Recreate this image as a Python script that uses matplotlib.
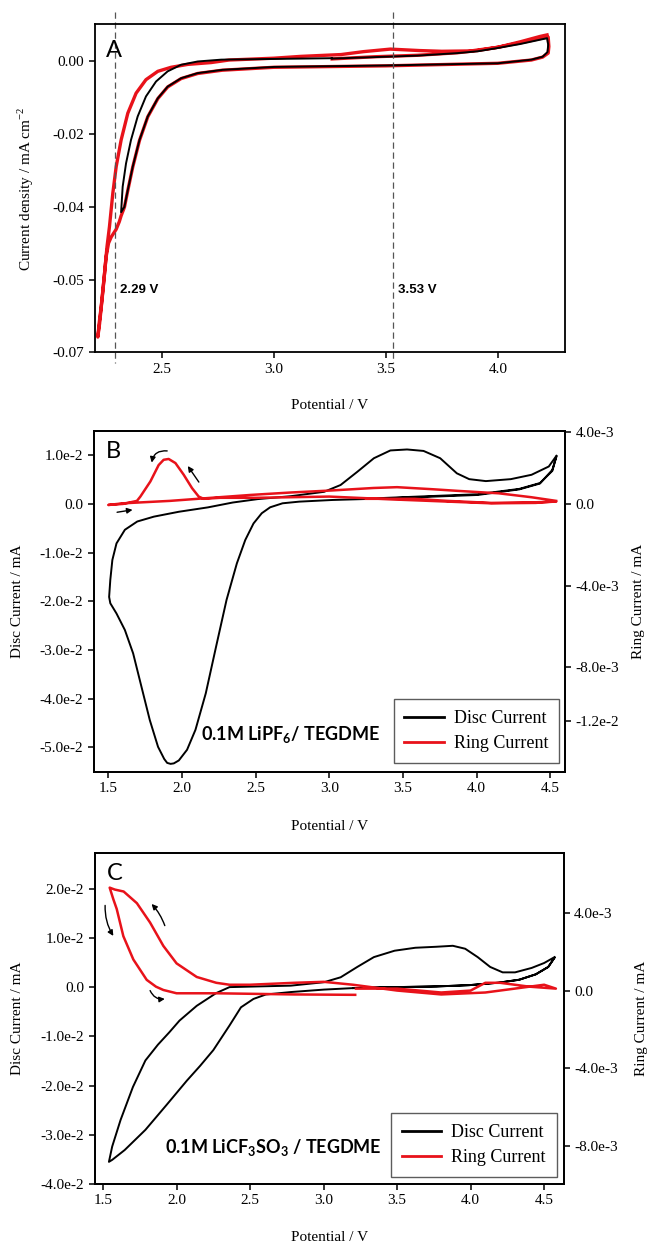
import numpy as np
import matplotlib
matplotlib.use('Agg')
from matplotlib import pyplot as plt

plt.rcParams['font.family'] = ['Liberation Serif', 'DejaVu Serif']
plt.rcParams['mathtext.fontset'] = 'custom'
plt.rcParams['mathtext.rm'] = 'Liberation Serif'
plt.rcParams['mathtext.bf'] = 'Lato:bold'

RED = '#e8121a'

# ---- panel A : CV, current density (mA cm-2) vs potential (V)
a_black_v = [3.26, 3.45, 3.64, 3.82, 3.91, 4.0, 4.1, 4.19, 4.22, 4.225, 4.222, 4.2, 4.15,
             4.0, 3.5, 3.0, 2.77, 2.66, 2.586, 2.526, 2.482, 2.437, 2.40, 2.37, 2.348,
             2.333, 2.318, 2.325, 2.34, 2.362, 2.392, 2.429, 2.474, 2.526, 2.586, 2.66,
             2.765, 3.0, 3.26]
a_black_i = [0.0007, 0.0011, 0.0015, 0.0022, 0.0027, 0.0036, 0.0047, 0.0059, 0.0063, 0.0045,
             0.0025, 0.0012, 0.0004, -0.0006, -0.0012, -0.0016, -0.0024, -0.0033, -0.0047,
             -0.007, -0.0102, -0.0152, -0.0217, -0.029, -0.0354, -0.040, -0.0415, -0.0345,
             -0.0281, -0.0217, -0.0152, -0.0097, -0.0056, -0.0028, -0.001, -0.0001, 0.0004,
             0.0006, 0.0008]

a_red_v = [3.26, 3.45, 3.64, 3.82, 3.91, 4.0, 4.1, 4.19, 4.225, 4.228, 4.225, 4.2, 4.15,
           4.0, 3.5, 3.0, 2.77, 2.66, 2.586, 2.526, 2.482, 2.437, 2.40, 2.37, 2.348, 2.333,
           2.318, 2.31, 2.296, 2.274, 2.262, 2.251, 2.237, 2.222, 2.214, 2.22, 2.229, 2.244,
           2.255, 2.266, 2.281, 2.296, 2.318, 2.348, 2.385, 2.429, 2.482, 2.541, 2.616, 2.72,
           2.8, 3.0, 3.12, 3.3, 3.4, 3.52, 3.65, 3.75, 3.88, 4.0, 4.1, 4.19, 4.22]
a_red_i = [0.0006, 0.0012, 0.0016, 0.0023, 0.0029, 0.0038, 0.005, 0.0062, 0.0066, 0.004,
           0.0022, 0.0011, 0.0003, -0.0006, -0.0013, -0.0017, -0.0025, -0.0034, -0.0048,
           -0.0071, -0.0103, -0.0153, -0.0218, -0.0291, -0.0355, -0.0401, -0.0425, -0.0441,
           -0.0462, -0.0483, -0.050, -0.0538, -0.063, -0.0721, -0.0758, -0.072, -0.0675,
           -0.0583, -0.051, -0.0455, -0.0363, -0.029, -0.0217, -0.0143, -0.0088, -0.0051,
           -0.0028, -0.0017, -0.0009, -0.0004, 0.0003, 0.0008, 0.0013, 0.0018, 0.0026,
           0.0033, 0.0029, 0.0027, 0.0028, 0.0038, 0.0053, 0.0068, 0.0072]

a_marks = [2.29, 3.53]
a_mark_labels = ['2.29 V', '3.53 V']
a_yticks = [0.0, -0.02, -0.04, -0.06, -0.08]
a_yticklabels = ['0.00', '-0.02', '-0.04', '-0.05', '-0.07']

# ---- panel B : RRDE, LiPF6
b_disc_v = [3.26, 3.585, 4.007, 4.29, 4.43, 4.514, 4.542, 4.514, 4.43, 4.29, 4.007, 3.585,
            3.26, 3.02, 2.796, 2.683, 2.599, 2.542, 2.486, 2.43, 2.373, 2.303, 2.232, 2.162,
            2.092, 2.035, 1.979, 1.945, 1.923, 1.90, 1.88, 1.838, 1.782, 1.725, 1.669, 1.613,
            1.556, 1.514, 1.506, 1.514, 1.528, 1.556, 1.613, 1.697, 1.81, 1.979, 2.176, 2.345,
            2.514, 2.739, 2.965, 3.077, 3.19, 3.303, 3.415, 3.528, 3.64, 3.753, 3.866, 3.95,
            4.063, 4.232, 4.373, 4.49, 4.542]
b_disc_i = [0.0011, 0.0015, 0.0020, 0.0031, 0.0043, 0.0068, 0.0098, 0.0070, 0.0042, 0.0030,
            0.00185, 0.00137, 0.00103, 0.00082, 0.00048, 0.00014, -0.00068, -0.0019, -0.004,
            -0.0074, -0.0122, -0.0197, -0.0293, -0.0389, -0.0464, -0.0505, -0.0527, -0.0533,
            -0.0534, -0.0532, -0.0524, -0.0499, -0.0444, -0.0375, -0.0307, -0.0259, -0.0225,
            -0.0204, -0.0191, -0.0156, -0.0115, -0.0081, -0.0053, -0.0036, -0.0026, -0.0016,
            -0.0007, 0.0003, 0.001, 0.0016, 0.0025, 0.0039, 0.0066, 0.0094, 0.011, 0.0112,
            0.0109, 0.0094, 0.0063, 0.0051, 0.0047, 0.0051, 0.006, 0.0077, 0.0099]

b_ring_v = [3.25, 3.58, 3.8, 4.1, 4.4, 4.54, 4.4, 4.1, 3.5, 3.0, 2.5, 2.26, 2.148, 2.114,
            2.069, 2.012, 1.956, 1.91, 1.876, 1.842, 1.786, 1.718, 1.695, 1.6, 1.5, 1.6, 1.92,
            2.2, 2.466, 2.74, 3.02, 3.3, 3.46, 3.7, 3.87, 4.15, 4.37, 4.54]
b_ring_i = [0.00025, 0.00025, 0.00015, 0.00005, 0.00008, 0.00012, 0.00005, 0.00003, 0.0002,
            0.00036, 0.0003, 0.0003, 0.00025, 0.00036, 0.00077, 0.00143, 0.002, 0.0022,
            0.00216, 0.0019, 0.0011, 0.00036, 0.00015, 0.0, -0.00005, 0.00003, 0.00015,
            0.0003, 0.00044, 0.00056, 0.00066, 0.00078, 0.00082, 0.00072, 0.00064, 0.00052,
            0.00033, 0.00015]

b_disc_ticks = [0.01, 0.0, -0.01, -0.02, -0.03, -0.04, -0.05]
b_disc_labels = ['1.0e-2', '0.0', '-1.0e-2', '-2.0e-2', '-3.0e-2', '-4.0e-2', '-5.0e-2']
b_ring_ticks = [0.00352, 0.0, -0.004, -0.008, -0.0106]
b_ring_labels = ['4.0e-3', '0.0', '-4.0e-3', '-8.0e-3', '-1.2e-2']

# ---- panel C : RRDE, LiCF3SO3
c_disc_v = [3.2, 3.48, 3.77, 3.99, 4.19, 4.33, 4.443, 4.528, 4.571, 4.528, 4.443, 4.33,
            4.19, 3.99, 3.766, 3.483, 3.2, 3.003, 2.777, 2.607, 2.523, 2.438, 2.36, 2.25,
            2.16, 2.07, 1.93, 1.788, 1.647, 1.562, 1.54, 1.562, 1.619, 1.703, 1.788, 1.873,
            1.95, 2.02, 2.137, 2.27, 2.36, 2.494, 2.777, 3.003, 3.116, 3.229, 3.342, 3.483,
            3.624, 3.766, 3.879, 3.963, 4.048, 4.133, 4.218, 4.302, 4.415, 4.5, 4.571]
c_disc_i = [-0.0002, 0.0, 0.00014, 0.0004, 0.0009, 0.0015, 0.0026, 0.0041, 0.006, 0.0041,
            0.0026, 0.0015, 0.0009, 0.0004, 0.00014, 0.0, -0.0002, -0.0005, -0.001, -0.0015,
            -0.0024, -0.0041, -0.0078, -0.0128, -0.016, -0.019, -0.024, -0.029, -0.0331,
            -0.0351, -0.0355, -0.0324, -0.027, -0.0203, -0.0149, -0.0117, -0.0092, -0.0068,
            -0.0038, -0.0012, 0.0, 0.0001, 0.0003, 0.001, 0.002, 0.0041, 0.0061, 0.0074,
            0.008, 0.0082, 0.0084, 0.0078, 0.0061, 0.0041, 0.003, 0.003, 0.0039, 0.0049,
            0.0061]

c_ring_v = [3.22, 3.5, 3.8, 4.0, 4.1, 4.2, 4.4, 4.58, 4.5, 4.3, 4.1, 3.8, 3.5, 3.2, 3.0,
            2.8, 2.5, 2.36, 2.27, 2.137, 2.0, 1.91, 1.82, 1.73, 1.64, 1.58, 1.545, 1.57,
            1.593, 1.638, 1.706, 1.797, 1.86, 1.91, 2.0, 2.27, 2.8, 3.215]
c_ring_i = [0.0001, 0.0001, -0.0001, 0.0, 0.0004, 0.0004, 0.0002, 0.0001, 0.0003, 0.0001,
            -0.0001, -0.0002, 0.0, 0.0003, 0.00045, 0.0004, 0.0003, 0.0003, 0.0004, 0.0007,
            0.0014, 0.0023, 0.0035, 0.0045, 0.0051, 0.0052, 0.0053, 0.0047, 0.0042, 0.0028,
            0.0016, 0.00055, 0.0002, 0.00003, -0.00014, -0.00014, -0.0002, -0.00022]

c_disc_ticks = [0.02, 0.01, 0.0, -0.01, -0.02, -0.03, -0.04]
c_disc_labels = ['2.0e-2', '1.0e-2', '0.0', '-1.0e-2', '-2.0e-2', '-3.0e-2', '-4.0e-2']
c_ring_ticks = [0.004, 0.0, -0.004, -0.008]
c_ring_labels = ['4.0e-3', '0.0', '-4.0e-3', '-8.0e-3']

rrde_ticks = [1.5, 2.0, 2.5, 3.0, 3.5, 4.0, 4.5]
rrde_ticklabels = ['1.5', '2.0', '2.5', '3.0', '3.5', '4.0', '4.5']

TICK_FS = 11
LABEL_FS = 11


def style(ax):
    for s in ax.spines.values():
        s.set_linewidth(1.3)
    ax.tick_params(direction='out', length=4, width=1.1, labelsize=TICK_FS)


fig = plt.figure(figsize=(6.48, 12.42), dpi=100)

# ---------------- A
ax = fig.add_axes([0.1461, 0.7163, 0.7258, 0.2641])
ax.plot(a_red_v, a_red_i, color=RED, lw=2.4)
ax.plot(a_black_v, a_black_i, color='k', lw=1.4)
for v, lab in zip(a_marks, a_mark_labels):
    ax.plot([v, v], [0.0135, -0.083], color='#555555', lw=0.9, ls=(0, (5, 3)), clip_on=False)
    ax.text(v + 0.025, -0.0628, lab, fontsize=9.5, fontweight='bold',
            family='Liberation Sans', va='center', ha='left')
ax.set_xlim(2.2, 4.3)
ax.set_ylim(-0.08, 0.0101)
ax.set_xticks([2.5, 3.0, 3.5, 4.0])
ax.set_yticks(a_yticks)
ax.set_yticklabels(a_yticklabels)
ax.set_xlabel('Potential / V', fontsize=LABEL_FS)
ax.set_ylabel('Current density / mA cm$^{-2}$', fontsize=LABEL_FS)
ax.xaxis.set_label_coords(0.5, -0.142)
ax.yaxis.set_label_coords(-0.124, 0.5)
ax.text(0.024, 0.92, 'A', transform=ax.transAxes, fontsize=17, family='Lato',
        va='center', ha='left')
style(ax)


def rrde_panel(rect, dv, di, rv, ri, xlim, dlim, rlim, dticks, dlabels, rticks, rlabels,
               letter, note, leg_anchor, lab_x, rlab_x):
    ax = fig.add_axes(rect)
    ax.plot(dv, di, color='k', lw=1.4, label='Disc Current')
    ax.set_xlim(*xlim)
    ax.set_ylim(*dlim)
    ax.set_xticks(rrde_ticks)
    ax.set_xticklabels(rrde_ticklabels)
    ax.set_yticks(dticks)
    ax.set_yticklabels(dlabels)
    ax.set_xlabel('Potential / V', fontsize=LABEL_FS)
    ax.set_ylabel('Disc Current / mA', fontsize=LABEL_FS)
    ax.xaxis.set_label_coords(0.5, -0.143)
    ax.yaxis.set_label_coords(lab_x, 0.5)
    style(ax)
    ax2 = ax.twinx()
    ax2.plot(rv, ri, color=RED, lw=1.8, label='Ring Current')
    ax2.set_ylim(*rlim)
    ax2.set_yticks(rticks)
    ax2.set_yticklabels(rlabels)
    ax2.set_ylabel('Ring Current / mA', fontsize=LABEL_FS)
    ax2.yaxis.set_label_coords(rlab_x, 0.5)
    style(ax2)
    ax.text(0.027, 0.94, letter, transform=ax.transAxes, fontsize=17, family='Lato',
            va='center', ha='left')
    ax.text(note[0], note[1], note[2], transform=ax.transAxes, fontsize=13.0,
            family='Lato', fontweight='bold', va='center', ha='left')
    h1, l1 = ax.get_legend_handles_labels()
    h2, l2 = ax2.get_legend_handles_labels()
    leg = ax2.legend(h1 + h2, l1 + l2, loc='lower right', bbox_to_anchor=leg_anchor,
                     borderaxespad=0, fontsize=13, frameon=True, fancybox=False,
                     handlelength=2.2, handletextpad=0.55, labelspacing=0.45,
                     borderpad=0.6)
    leg.get_frame().set_edgecolor('#333333')
    leg.get_frame().set_linewidth(1.0)
    for line in leg.get_lines():
        line.set_linewidth(2.0)
    return ax


def arrow(ax, start, end, rad):
    ax.annotate('', xy=end, xytext=start,
                arrowprops=dict(arrowstyle='-|>', color='k', lw=1.0, mutation_scale=8,
                                shrinkA=0, shrinkB=0,
                                connectionstyle='arc3,rad=%s' % rad))


# ---------------- B
axb = rrde_panel([0.1443, 0.3787, 0.7276, 0.2743], b_disc_v, b_disc_i, b_ring_v, b_ring_i,
                 (1.4, 4.6), (-0.055, 0.015), (-0.0131, 0.00357),
                 b_disc_ticks, b_disc_labels, b_ring_ticks, b_ring_labels,
                 'B', (0.227, 0.108, '0.1M LiPF$_{\\mathbf{6}}$/ TEGDME'),
                 (0.988, 0.0255), -0.147, 1.143)
arrow(axb, (1.56, -0.0017), (1.665, -0.0012), 0)
arrow(axb, (2.115, 0.0045), (2.04, 0.0078), 0)
arrow(axb, (1.90, 0.0109), (1.795, 0.0085), 0.45)

# ---------------- C
axc = rrde_panel([0.1461, 0.0467, 0.7238, 0.2663], c_disc_v, c_disc_i, c_ring_v, c_ring_i,
                 (1.443, 4.633), (-0.04, 0.0272), (-0.00996, 0.00707),
                 c_disc_ticks, c_disc_labels, c_ring_ticks, c_ring_labels,
                 'C', (0.15, 0.109, '0.1M LiCF$_{\\mathbf{3}}$SO$_{\\mathbf{3}}$ / TEGDME'),
                 (0.985, 0.021), -0.1505, 1.151)
arrow(axc, (1.514, 0.0166), (1.57, 0.0104), 0.15)
arrow(axc, (1.92, 0.0125), (1.83, 0.0169), 0.1)
arrow(axc, (1.82, -0.0007), (1.92, -0.0024), 0.35)

fig.savefig('out.png', dpi=100)
